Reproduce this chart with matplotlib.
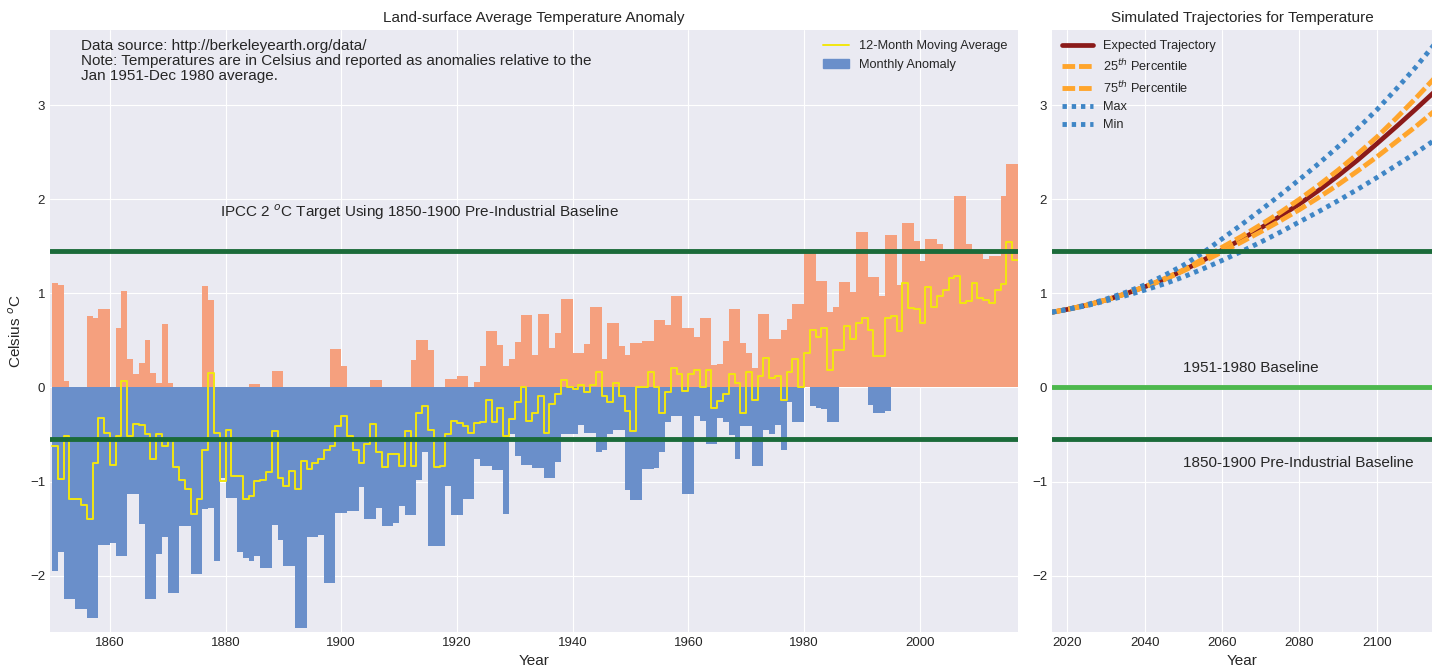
import numpy as np
import matplotlib
matplotlib.use("Agg")
import matplotlib.pyplot as plt
from matplotlib.patches import Patch
from matplotlib.lines import Line2D

plt.style.use("seaborn-v0_8-darkgrid")
plt.rcParams["font.family"] = ["Liberation Sans", "DejaVu Sans"]

# yearly envelope of the monthly anomalies, 1850-2016 (one row per decade)
years = np.arange(1850, 2017)
warm_max = [
    1.11, 1.09, 0.07, 0, 0, 0, 0.76, 0.74, 0.83, 0.83,
    0, 0.63, 1.02, 0.30, 0.14, 0.26, 0.50, 0.15, 0.05, 0.67,
    0.05, 0, 0, 0, 0, 0, 1.08, 0.93, 0, 0,
    0, 0, 0, 0, 0.04, 0.04, 0, 0, 0.17, 0.17,
    0, 0, 0, 0, 0, 0, 0, 0, 0.41, 0.41,
    0.23, 0, 0, 0, 0.01, 0.08, 0.08, 0, 0, 0,
    0, 0, 0.29, 0.50, 0.50, 0.40, 0, 0, 0.09, 0.09,
    0.12, 0.12, 0, 0.06, 0.23, 0.60, 0.60, 0.45, 0.23, 0.30,
    0.48, 0.77, 0.77, 0.35, 0.78, 0.78, 0.42, 0.58, 0.94, 0.94,
    0.37, 0.37, 0.46, 0.86, 0.86, 0.30, 0.69, 0.69, 0.44, 0.35,
    0.47, 0.47, 0.49, 0.49, 0.72, 0.72, 0.66, 0.97, 0.97, 0.63,
    0.63, 0.54, 0.74, 0.74, 0.24, 0.25, 0.49, 0.83, 0.83, 0.47,
    0.37, 0.21, 0.78, 0.78, 0.51, 0.51, 0.61, 0.73, 0.89, 0.89,
    1.43, 1.43, 1.13, 1.13, 0.80, 0.86, 1.12, 1.12, 1.01, 1.65,
    1.65, 1.17, 1.17, 0.97, 1.62, 1.62, 1.09, 1.75, 1.75, 1.56,
    1.34, 1.58, 1.58, 1.52, 1.43, 1.43, 2.03, 2.03, 1.52, 1.43,
    1.43, 1.37, 1.40, 1.40, 2.04, 2.38, 2.38,
]
cold_min = [
    -1.95, -1.75, -2.25, -2.25, -2.36, -2.36, -2.45, -2.45, -1.67, -1.67,
    -1.65, -1.79, -1.79, -1.13, -1.13, -1.45, -2.25, -2.25, -1.77, -1.59,
    -2.18, -2.18, -1.47, -1.47, -1.98, -1.98, -1.29, -1.28, -1.84, -0.96,
    -1.17, -1.17, -1.75, -1.81, -1.84, -1.79, -1.92, -1.92, -1.46, -1.62,
    -1.90, -1.90, -2.56, -2.56, -1.59, -1.59, -1.57, -2.08, -2.08, -1.34,
    -1.34, -1.31, -1.31, -1.06, -1.40, -1.40, -1.28, -1.47, -1.47, -1.44,
    -1.26, -1.36, -1.36, -0.98, -0.69, -1.69, -1.69, -1.69, -1.05, -1.36,
    -1.36, -1.19, -1.19, -0.76, -0.83, -0.83, -0.88, -0.88, -1.35, -0.50,
    -0.73, -0.82, -0.82, -0.86, -0.86, -0.96, -0.96, -0.79, -0.49, -0.49,
    -0.49, -0.40, -0.48, -0.48, -0.69, -0.66, -0.50, -0.45, -0.45, -1.09,
    -1.20, -1.20, -0.87, -0.87, -0.86, -0.69, -0.37, -0.30, -0.30, -1.13,
    -1.13, -0.30, -0.36, -0.60, -0.60, -0.33, -0.37, -0.51, -0.76, -0.41,
    -0.41, -0.83, -0.83, -0.45, -0.50, -0.40, -0.66, -0.16, -0.37, -0.37,
    0, -0.20, -0.22, -0.23, -0.37, -0.37, 0, 0, 0, 0,
    0, -0.19, -0.27, -0.27, -0.25, 0, 0, 0, 0, 0,
    0, 0, 0, 0, 0, 0, 0, 0, 0, 0,
    0, 0, 0, 0, 0, 0, 0,
]
moving_avg = [
    -0.62, -0.97, -0.52, -1.19, -1.19, -1.25, -1.40, -0.80, -0.32, -0.48,
    -0.82, -0.52, 0.07, -0.52, -0.39, -0.40, -0.50, -0.76, -0.50, -0.62,
    -0.55, -0.85, -0.98, -1.08, -1.35, -1.19, -0.67, 0.15, -0.48, -0.99,
    -0.45, -0.94, -0.94, -1.19, -1.15, -0.99, -0.98, -0.90, -0.46, -0.96,
    -1.05, -0.89, -1.08, -0.78, -0.87, -0.80, -0.76, -0.67, -0.62, -0.41,
    -0.30, -0.52, -0.66, -0.80, -0.60, -0.39, -0.69, -0.85, -0.71, -0.71,
    -0.83, -0.46, -0.83, -0.27, -0.20, -0.45, -0.85, -0.83, -0.50, -0.36,
    -0.38, -0.41, -0.48, -0.38, -0.37, -0.13, -0.37, -0.22, -0.52, -0.34,
    -0.16, 0.01, -0.36, -0.27, -0.09, -0.48, -0.18, -0.07, 0.08, 0.00,
    -0.02, 0.03, -0.05, 0.03, 0.16, -0.09, -0.16, 0.05, -0.09, -0.25,
    -0.46, 0.00, 0.01, 0.16, 0.00, -0.27, -0.05, 0.21, 0.14, -0.04,
    0.14, 0.19, 0.00, 0.19, -0.22, -0.14, -0.07, 0.14, 0.05, -0.27,
    0.16, -0.13, 0.12, 0.31, 0.10, 0.12, -0.13, 0.16, 0.30, 0.01,
    0.37, 0.61, 0.54, 0.63, 0.19, 0.40, 0.40, 0.65, 0.51, 0.69,
    0.74, 0.61, 0.33, 0.33, 0.74, 0.76, 0.60, 1.11, 0.84, 0.83,
    0.69, 1.07, 0.86, 0.97, 1.04, 1.16, 1.18, 0.90, 0.92, 1.11,
    0.95, 0.93, 0.90, 1.04, 1.10, 1.55, 1.35,
]

# simulated trajectories
sim_years = [2016, 2020, 2025, 2030, 2035, 2040, 2045, 2050, 2055, 2060, 2065,
             2070, 2075, 2080, 2085, 2090, 2095, 2100, 2105, 2110, 2115]
expected = [0.80, 0.83, 0.875, 0.93, 0.995, 1.07, 1.15, 1.245, 1.35, 1.46, 1.575,
            1.695, 1.82, 1.95, 2.095, 2.25, 2.415, 2.59, 2.77, 2.955, 3.145]
p75 = [0.80, 0.83, 0.875, 0.93, 0.995, 1.07, 1.155, 1.25, 1.365, 1.49, 1.605,
       1.73, 1.86, 2.00, 2.15, 2.31, 2.48, 2.66, 2.86, 3.07, 3.29]
p25 = [0.80, 0.83, 0.875, 0.93, 0.995, 1.07, 1.145, 1.24, 1.335, 1.44, 1.545,
       1.655, 1.77, 1.89, 2.02, 2.155, 2.30, 2.45, 2.61, 2.77, 2.94]
sim_max = [0.80, 0.83, 0.88, 0.94, 1.01, 1.09, 1.19, 1.30, 1.43, 1.58, 1.73,
           1.885, 2.045, 2.21, 2.38, 2.56, 2.75, 2.95, 3.17, 3.40, 3.65]
sim_min = [0.80, 0.83, 0.87, 0.92, 0.975, 1.035, 1.10, 1.175, 1.26, 1.35, 1.445,
           1.545, 1.65, 1.76, 1.87, 1.985, 2.105, 2.23, 2.36, 2.49, 2.63]

target = 1.45      # 2 C above 1850-1900 baseline
preind = -0.55     # 1850-1900 baseline relative to 1951-1980

c_warm = "#F5A07E"
c_cold = "#6A8FCA"
c_yellow = "#F2E60F"
c_green = "#1B6B3A"
c_light = "#4DB84D"

fig = plt.figure(figsize=(14.37, 6.71), dpi=100)
ax = fig.add_axes([0.0348, 0.0581, 0.6736, 0.8972])
ax2 = fig.add_axes([0.7321, 0.0581, 0.2644, 0.8972])

ax.bar(years, warm_max, width=1.0, align="edge", color=c_warm, linewidth=0)
ax.bar(years, cold_min, width=1.0, align="edge", color=c_cold, linewidth=0)
ax.plot(np.append(years, 2017), np.append(moving_avg, moving_avg[-1]),
        drawstyle="steps-post", color=c_yellow, lw=1.4)
ax.axhline(target, color=c_green, lw=3.5)
ax.axhline(preind, color=c_green, lw=3.5)

ax.set_xlim(1849.65, 2017.0)
ax.set_ylim(-2.6, 3.8)
ax.set_xticks([1860, 1880, 1900, 1920, 1940, 1960, 1980, 2000])
ax.set_yticks([-2, -1, 0, 1, 2, 3])
ax.set_title("Land-surface Average Temperature Anomaly", fontsize=11)
ax.set_xlabel("Year", fontsize=11, labelpad=4)
ax.set_ylabel("Celsius $^o$C", fontsize=11)
ax.tick_params(labelsize=9.5)
ax.text(0.032, 0.985,
        "Data source: http://berkeleyearth.org/data/\n"
        "Note: Temperatures are in Celsius and reported as anomalies relative to the\n"
        "Jan 1951-Dec 1980 average.",
        transform=ax.transAxes, ha="left", va="top", fontsize=11, linespacing=1.1)
ax.text(1879, 1.86, "IPCC 2 $^o$C Target Using 1850-1900 Pre-Industrial Baseline",
        ha="left", va="center", fontsize=11)
ax.legend(handles=[Line2D([], [], color=c_yellow, lw=1.4),
                   Patch(color=c_cold)],
          labels=["12-Month Moving Average", "Monthly Anomaly"],
          loc="upper right", fontsize=9.2, frameon=False, borderaxespad=0.4)

ax2.plot(sim_years, expected, color="#8B1A1A", lw=3.4, label="Expected Trajectory")
ax2.plot(sim_years, p25, color="#FFA52C", lw=3.5, ls=(0, (2.6, 0.8)),
         label="25$^{th}$ Percentile")
ax2.plot(sim_years, p75, color="#FFA52C", lw=3.5, ls=(0, (2.6, 0.8)),
         label="75$^{th}$ Percentile")
ax2.plot(sim_years, sim_max, color="#3F86C6", lw=3.5, ls=(0, (0.9, 1.0)), label="Max")
ax2.plot(sim_years, sim_min, color="#3F86C6", lw=3.5, ls=(0, (0.9, 1.0)), label="Min")
ax2.axhline(target, color=c_green, lw=3.5)
ax2.axhline(0, color=c_light, lw=3.5)
ax2.axhline(preind, color=c_green, lw=3.5)
ax2.text(2050, 0.21, "1951-1980 Baseline", ha="left", va="center", fontsize=11)
ax2.text(2050, -0.80, "1850-1900 Pre-Industrial Baseline", ha="left", va="center",
         fontsize=11)

ax2.set_xlim(2016, 2114.3)
ax2.set_ylim(-2.6, 3.8)
ax2.set_xticks([2020, 2040, 2060, 2080, 2100])
ax2.set_yticks([-2, -1, 0, 1, 2, 3])
ax2.set_title("Simulated Trajectories for Temperature", fontsize=11)
ax2.set_xlabel("Year", fontsize=11, labelpad=4)
ax2.tick_params(labelsize=9.5)
ax2.legend(loc="upper left", fontsize=9.2, frameon=False, handlelength=2.4,
           labelspacing=0.45, borderaxespad=0.4)

fig.savefig("out.png", dpi=100)
